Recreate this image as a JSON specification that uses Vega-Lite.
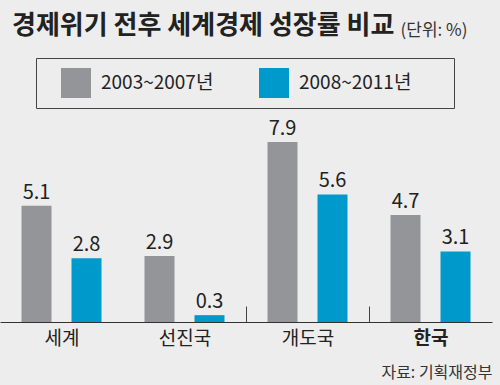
{
  "$schema": "https://vega.github.io/schema/vega-lite/v6.json",
  "width": 492,
  "height": 205,
  "autosize": "none",
  "padding": {"left": 0, "top": 117, "right": 8, "bottom": 63},
  "background": "#EDEDED",
  "config": {
    "view": {"stroke": null},
    "font": "Noto Sans CJK KR",
    "legend": {
      "orient": "none",
      "legendX": 36,
      "legendY": -59,
      "direction": "horizontal",
      "padding": 10,
      "strokeColor": "#444444",
      "symbolType": "square",
      "symbolSize": 900,
      "symbolStrokeWidth": 0,
      "symbolOpacity": 1,
      "symbolOffset": 15,
      "labelFontSize": 19,
      "labelColor": "#222222",
      "labelOffset": 10,
      "columnPadding": 30,
      "labelLimit": 300,
      "titleOrient": "right",
      "titlePadding": 33,
      "titleFontSize": 1
    }
  },
  "title": {
    "text": "경제위기 전후 세계경제 성장률 비교",
    "fontSize": 26,
    "fontWeight": "bold",
    "color": "#222222",
    "anchor": "start",
    "frame": "group",
    "dx": 12,
    "dy": 22
  },
  "data": {
    "values": [
      {"region": "세계", "period": "2003~2007년", "value": 5.1},
      {"region": "세계", "period": "2008~2011년", "value": 2.8},
      {"region": "선진국", "period": "2003~2007년", "value": 2.9},
      {"region": "선진국", "period": "2008~2011년", "value": 0.3},
      {"region": "개도국", "period": "2003~2007년", "value": 7.9},
      {"region": "개도국", "period": "2008~2011년", "value": 5.6},
      {"region": "한국", "period": "2003~2007년", "value": 4.7},
      {"region": "한국", "period": "2008~2011년", "value": 3.1}
    ]
  },
  "encoding": {
    "x": {
      "field": "region",
      "type": "nominal",
      "scale": {"domain": ["세계", "선진국", "개도국", "한국"], "paddingInner": 0, "paddingOuter": 0},
      "axis": {
        "orient": "bottom",
        "zindex": 1,
        "domain": true,
        "domainColor": "#333333",
        "domainWidth": 1,
        "ticks": true,
        "tickBand": "extent",
        "tickSize": -16,
        "tickWidth": 1,
        "tickColor": {"condition": {"test": "datum.value === '선진국' || datum.value === '개도국'", "value": "#444444"}, "value": "transparent"},
        "labelAngle": 0,
        "labelFontSize": 19,
        "labelColor": "#222222",
        "labelPadding": 23,
        "labelFontWeight": {"condition": {"test": "datum.value === '한국'", "value": "bold"}, "value": "normal"},
        "title": "자료: 기획재정부",
        "titleFontSize": 16,
        "titleFontWeight": "normal",
        "titleColor": "#333333",
        "titleAnchor": "end",
        "titleAlign": "right",
        "titleBaseline": "alphabetic",
        "titleX": 492,
        "titleY": 55
      }
    },
    "y": {
      "field": "value",
      "type": "quantitative",
      "scale": {"domain": [0, 9], "nice": false, "zero": true},
      "axis": {
        "domain": false,
        "ticks": false,
        "labels": false,
        "grid": false,
        "title": "(단위: %)",
        "titleAngle": 0,
        "titleFontSize": 17,
        "titleFontWeight": "normal",
        "titleColor": "#333333",
        "titleAlign": "left",
        "titleBaseline": "alphabetic",
        "titleX": 400,
        "titleY": -82
      }
    }
  },
  "layer": [
    {
      "data": {"values": [{"region": "한국"}]},
      "mark": {"type": "bar", "color": "#FFFFFF"},
      "encoding": {
        "y": {"datum": -1.4, "type": "quantitative"},
        "y2": {"datum": 9}
      }
    },
    {
      "mark": {"type": "bar"},
      "encoding": {
        "xOffset": {"field": "period", "type": "nominal", "scale": {"paddingInner": 0.4, "paddingOuter": 0.43}},
        "color": {
          "field": "period",
          "type": "nominal",
          "scale": {"domain": ["2003~2007년", "2008~2011년"], "range": ["#939598", "#0099CB"]},
          "legend": {"title": "\u200b"}
        }
      }
    },
    {
      "mark": {"type": "text", "baseline": "alphabetic", "dy": -7, "fontSize": 20, "color": "#222222"},
      "encoding": {
        "xOffset": {"field": "period", "type": "nominal"},
        "text": {"field": "value", "type": "quantitative", "format": ".1f"}
      }
    }
  ]
}
